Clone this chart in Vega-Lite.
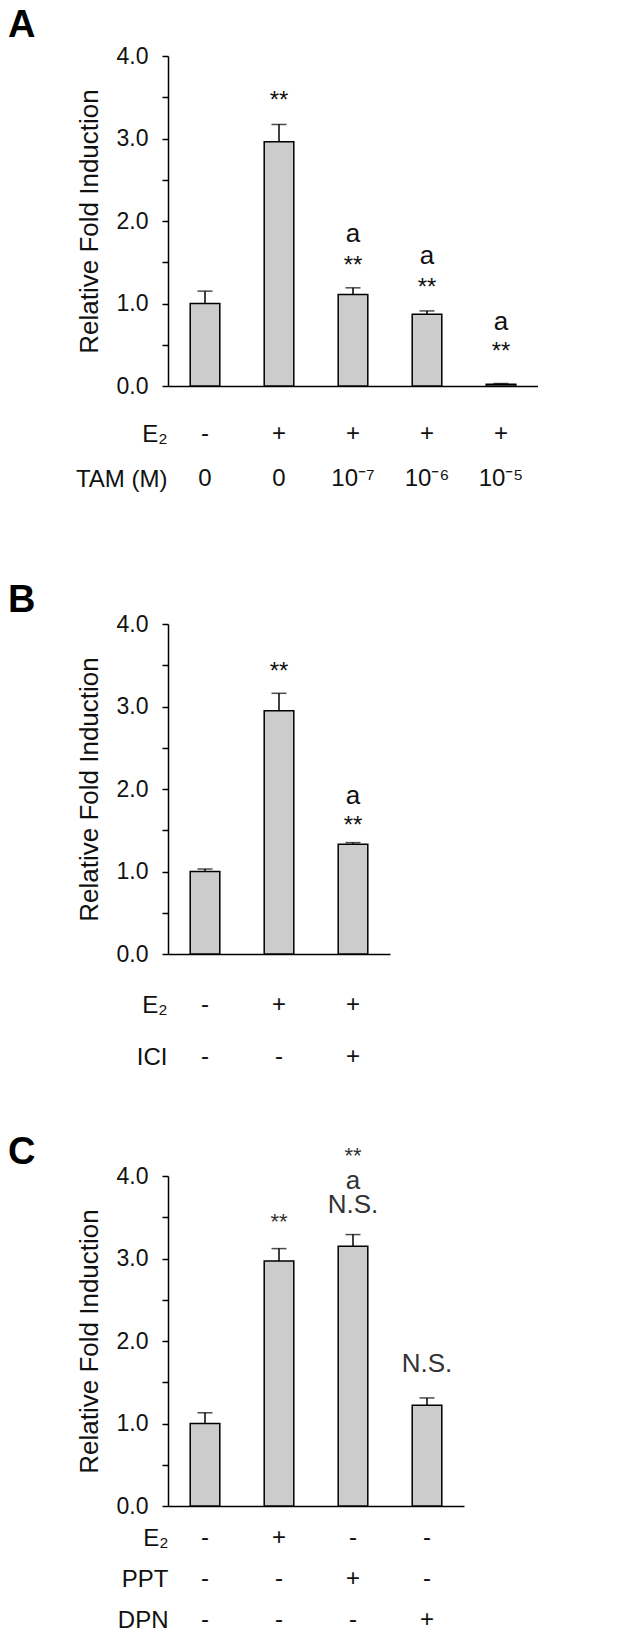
{
  "$schema": "https://vega.github.io/schema/vega-lite/v6.json",
  "background": "white",
  "padding": {"left": 8, "top": 7, "right": 0, "bottom": 0},
  "bounds": "flush",
  "spacing": 0,
  "config": {
    "font": "Liberation Sans",
    "view": {"stroke": null},
    "axis": {"grid": false},
    "title": {"font": "Liberation Sans"}
  },
  "datasets": {
    "bars": [
      {"panel": "A", "cond": "c1", "value": 1.00, "upper": 1.15},
      {"panel": "A", "cond": "c2", "value": 2.96, "upper": 3.17},
      {"panel": "A", "cond": "c3", "value": 1.11, "upper": 1.19},
      {"panel": "A", "cond": "c4", "value": 0.87, "upper": 0.91},
      {"panel": "A", "cond": "c5", "value": 0.02, "upper": 0.03},
      {"panel": "B", "cond": "c1", "value": 1.00, "upper": 1.03},
      {"panel": "B", "cond": "c2", "value": 2.95, "upper": 3.16},
      {"panel": "B", "cond": "c3", "value": 1.33, "upper": 1.35},
      {"panel": "C", "cond": "c1", "value": 1.00, "upper": 1.13},
      {"panel": "C", "cond": "c2", "value": 2.97, "upper": 3.12},
      {"panel": "C", "cond": "c3", "value": 3.15, "upper": 3.29},
      {"panel": "C", "cond": "c4", "value": 1.22, "upper": 1.31}
    ],
    "notes": [
      {"panel": "A", "cond": "c2", "kind": "star", "txt": "**", "pos": 3.53},
      {"panel": "A", "cond": "c3", "kind": "letter", "txt": "a", "pos": 1.84},
      {"panel": "A", "cond": "c3", "kind": "star", "txt": "**", "pos": 1.53},
      {"panel": "A", "cond": "c4", "kind": "letter", "txt": "a", "pos": 1.57},
      {"panel": "A", "cond": "c4", "kind": "star", "txt": "**", "pos": 1.26},
      {"panel": "A", "cond": "c5", "kind": "letter", "txt": "a", "pos": 0.78},
      {"panel": "A", "cond": "c5", "kind": "star", "txt": "**", "pos": 0.48},
      {"panel": "B", "cond": "c2", "kind": "star", "txt": "**", "pos": 3.49},
      {"panel": "B", "cond": "c3", "kind": "letter", "txt": "a", "pos": 1.91},
      {"panel": "B", "cond": "c3", "kind": "star", "txt": "**", "pos": 1.63},
      {"panel": "C", "cond": "c2", "kind": "star", "txt": "**", "pos": 3.51},
      {"panel": "C", "cond": "c3", "kind": "star", "txt": "**", "pos": 4.32},
      {"panel": "C", "cond": "c3", "kind": "letter", "txt": "a", "pos": 3.94},
      {"panel": "C", "cond": "c3", "kind": "letter", "txt": "N.S.", "pos": 3.65},
      {"panel": "C", "cond": "c4", "kind": "letter", "txt": "N.S.", "pos": 1.72}
    ],
    "rows": [
      {"panel": "A", "row": "E₂", "cond": "c1", "txt": "-"},
      {"panel": "A", "row": "E₂", "cond": "c2", "txt": "+"},
      {"panel": "A", "row": "E₂", "cond": "c3", "txt": "+"},
      {"panel": "A", "row": "E₂", "cond": "c4", "txt": "+"},
      {"panel": "A", "row": "E₂", "cond": "c5", "txt": "+"},
      {"panel": "A", "row": "TAM (M)", "cond": "c1", "txt": "0"},
      {"panel": "A", "row": "TAM (M)", "cond": "c2", "txt": "0"},
      {"panel": "A", "row": "TAM (M)", "cond": "c3", "txt": "10⁻⁷"},
      {"panel": "A", "row": "TAM (M)", "cond": "c4", "txt": "10⁻⁶"},
      {"panel": "A", "row": "TAM (M)", "cond": "c5", "txt": "10⁻⁵"},
      {"panel": "B", "row": "E₂", "cond": "c1", "txt": "-"},
      {"panel": "B", "row": "E₂", "cond": "c2", "txt": "+"},
      {"panel": "B", "row": "E₂", "cond": "c3", "txt": "+"},
      {"panel": "B", "row": "ICI", "cond": "c1", "txt": "-"},
      {"panel": "B", "row": "ICI", "cond": "c2", "txt": "-"},
      {"panel": "B", "row": "ICI", "cond": "c3", "txt": "+"},
      {"panel": "C", "row": "E₂", "cond": "c1", "txt": "-"},
      {"panel": "C", "row": "E₂", "cond": "c2", "txt": "+"},
      {"panel": "C", "row": "E₂", "cond": "c3", "txt": "-"},
      {"panel": "C", "row": "E₂", "cond": "c4", "txt": "-"},
      {"panel": "C", "row": "PPT", "cond": "c1", "txt": "-"},
      {"panel": "C", "row": "PPT", "cond": "c2", "txt": "-"},
      {"panel": "C", "row": "PPT", "cond": "c3", "txt": "+"},
      {"panel": "C", "row": "PPT", "cond": "c4", "txt": "-"},
      {"panel": "C", "row": "DPN", "cond": "c1", "txt": "-"},
      {"panel": "C", "row": "DPN", "cond": "c2", "txt": "-"},
      {"panel": "C", "row": "DPN", "cond": "c3", "txt": "-"},
      {"panel": "C", "row": "DPN", "cond": "c4", "txt": "+"}
    ]
  },
  "vconcat": [
    {
      "width": 370, "height": 330,
      "title": {"text": "A", "anchor": "start", "frame": "group", "dx": -160, "fontSize": 38, "fontWeight": "bold", "baseline": "alphabetic", "offset": -30, "color": "black"},
      "encoding": {
        "x": {"field": "cond", "type": "nominal", "scale": {"paddingInner": 0.6, "paddingOuter": 0.3},
              "axis": {"title": null, "labels": false, "ticks": false, "domainColor": "black", "domainWidth": 1.5}}
      },
      "layer": [
        {"data": {"name": "bars"}, "transform": [{"filter": "datum.panel === 'A'"}],
         "mark": {"type": "bar", "fill": "#cccccc", "stroke": "black", "strokeWidth": 1.5},
         "encoding": {"y": {"field": "value", "type": "quantitative", "scale": {"domain": [0, 4]},
           "axis": {"values": [0, 0.5, 1, 1.5, 2, 2.5, 3, 3.5, 4], "labelExpr": "datum.value % 1 === 0 ? format(datum.value, '.1f') : ''",
                    "tickSize": 6, "tickWidth": 1.5, "tickColor": "black", "domainColor": "black", "domainWidth": 1.5,
                    "labelFontSize": 23, "labelColor": "#111", "labelPadding": 14,
                    "title": "Relative Fold Induction", "titleFontSize": 26, "titleFontWeight": "normal", "titleColor": "#111", "titlePadding": 14}}}},
        {"data": {"name": "bars"}, "transform": [{"filter": "datum.panel === 'A'"}],
         "mark": {"type": "rule", "strokeWidth": 1.5, "color": "black"},
         "encoding": {"y": {"field": "value", "type": "quantitative"}, "y2": {"field": "upper"}}},
        {"data": {"name": "bars"}, "transform": [{"filter": "datum.panel === 'A'"}],
         "mark": {"type": "tick", "thickness": 1.5, "size": 15, "color": "black"},
         "encoding": {"y": {"field": "upper", "type": "quantitative"}}},
        {"data": {"name": "notes"}, "transform": [{"filter": "datum.panel === 'A' && datum.kind === 'star'"}],
         "mark": {"type": "text", "fontSize": 24, "baseline": "middle", "dy": 6, "color": "#111"},
         "encoding": {"y": {"field": "pos", "type": "quantitative"}, "text": {"field": "txt"}}},
        {"data": {"name": "notes"}, "transform": [{"filter": "datum.panel === 'A' && datum.kind === 'letter'"}],
         "mark": {"type": "text", "fontSize": 26, "baseline": "middle", "color": "#111"},
         "encoding": {"y": {"field": "pos", "type": "quantitative"}, "text": {"field": "txt"}}}
      ]
    },
    {
      "width": 370, "height": 238,
      "data": {"name": "rows"}, "transform": [{"filter": "datum.panel === 'A'"}],
      "mark": {"type": "text", "fontSize": 24, "baseline": "middle", "color": "#111"},
      "encoding": {
        "x": {"field": "cond", "type": "nominal", "scale": {"paddingInner": 0.6, "paddingOuter": 0.3}, "axis": null},
        "y": {"field": "row", "type": "nominal", "sort": ["E₂", "TAM (M)"], "scale": {"type": "point", "padding": 0, "range": [48, 93]},
              "axis": {"title": null, "domain": false, "ticks": false, "tickSize": 0, "labelFontSize": 24, "labelColor": "#111", "labelPadding": 1}},
        "text": {"field": "txt"}
      }
    },
    {
      "width": 222, "height": 330,
      "title": {"text": "B", "anchor": "start", "frame": "group", "dx": -160, "fontSize": 38, "fontWeight": "bold", "baseline": "alphabetic", "offset": -37, "color": "black"},
      "encoding": {
        "x": {"field": "cond", "type": "nominal", "scale": {"paddingInner": 0.6, "paddingOuter": 0.3},
              "axis": {"title": null, "labels": false, "ticks": false, "domainColor": "black", "domainWidth": 1.5}}
      },
      "layer": [
        {"data": {"name": "bars"}, "transform": [{"filter": "datum.panel === 'B'"}],
         "mark": {"type": "bar", "fill": "#cccccc", "stroke": "black", "strokeWidth": 1.5},
         "encoding": {"y": {"field": "value", "type": "quantitative", "scale": {"domain": [0, 4]},
           "axis": {"values": [0, 0.5, 1, 1.5, 2, 2.5, 3, 3.5, 4], "labelExpr": "datum.value % 1 === 0 ? format(datum.value, '.1f') : ''",
                    "tickSize": 6, "tickWidth": 1.5, "tickColor": "black", "domainColor": "black", "domainWidth": 1.5,
                    "labelFontSize": 23, "labelColor": "#111", "labelPadding": 14,
                    "title": "Relative Fold Induction", "titleFontSize": 26, "titleFontWeight": "normal", "titleColor": "#111", "titlePadding": 14}}}},
        {"data": {"name": "bars"}, "transform": [{"filter": "datum.panel === 'B'"}],
         "mark": {"type": "rule", "strokeWidth": 1.5, "color": "black"},
         "encoding": {"y": {"field": "value", "type": "quantitative"}, "y2": {"field": "upper"}}},
        {"data": {"name": "bars"}, "transform": [{"filter": "datum.panel === 'B'"}],
         "mark": {"type": "tick", "thickness": 1.5, "size": 15, "color": "black"},
         "encoding": {"y": {"field": "upper", "type": "quantitative"}}},
        {"data": {"name": "notes"}, "transform": [{"filter": "datum.panel === 'B' && datum.kind === 'star'"}],
         "mark": {"type": "text", "fontSize": 24, "baseline": "middle", "dy": 6, "color": "#111"},
         "encoding": {"y": {"field": "pos", "type": "quantitative"}, "text": {"field": "txt"}}},
        {"data": {"name": "notes"}, "transform": [{"filter": "datum.panel === 'B' && datum.kind === 'letter'"}],
         "mark": {"type": "text", "fontSize": 26, "baseline": "middle", "color": "#111"},
         "encoding": {"y": {"field": "pos", "type": "quantitative"}, "text": {"field": "txt"}}}
      ]
    },
    {
      "width": 222, "height": 222,
      "data": {"name": "rows"}, "transform": [{"filter": "datum.panel === 'B'"}],
      "mark": {"type": "text", "fontSize": 24, "baseline": "middle", "color": "#111"},
      "encoding": {
        "x": {"field": "cond", "type": "nominal", "scale": {"paddingInner": 0.6, "paddingOuter": 0.3}, "axis": null},
        "y": {"field": "row", "type": "nominal", "sort": ["E₂", "ICI"], "scale": {"type": "point", "padding": 0, "range": [51, 103]},
              "axis": {"title": null, "domain": false, "ticks": false, "tickSize": 0, "labelFontSize": 24, "labelColor": "#111", "labelPadding": 1}},
        "text": {"field": "txt"}
      }
    },
    {
      "width": 296, "height": 330,
      "title": {"text": "C", "anchor": "start", "frame": "group", "dx": -160, "fontSize": 38, "fontWeight": "bold", "baseline": "alphabetic", "offset": -57, "color": "black"},
      "encoding": {
        "x": {"field": "cond", "type": "nominal", "scale": {"paddingInner": 0.6, "paddingOuter": 0.3},
              "axis": {"title": null, "labels": false, "ticks": false, "domainColor": "black", "domainWidth": 1.5}}
      },
      "layer": [
        {"data": {"name": "bars"}, "transform": [{"filter": "datum.panel === 'C'"}],
         "mark": {"type": "bar", "fill": "#cccccc", "stroke": "black", "strokeWidth": 1.5},
         "encoding": {"y": {"field": "value", "type": "quantitative", "scale": {"domain": [0, 4]},
           "axis": {"values": [0, 0.5, 1, 1.5, 2, 2.5, 3, 3.5, 4], "labelExpr": "datum.value % 1 === 0 ? format(datum.value, '.1f') : ''",
                    "tickSize": 6, "tickWidth": 1.5, "tickColor": "black", "domainColor": "black", "domainWidth": 1.5,
                    "labelFontSize": 23, "labelColor": "#111", "labelPadding": 14,
                    "title": "Relative Fold Induction", "titleFontSize": 26, "titleFontWeight": "normal", "titleColor": "#111", "titlePadding": 14}}}},
        {"data": {"name": "bars"}, "transform": [{"filter": "datum.panel === 'C'"}],
         "mark": {"type": "rule", "strokeWidth": 1.5, "color": "black"},
         "encoding": {"y": {"field": "value", "type": "quantitative"}, "y2": {"field": "upper"}}},
        {"data": {"name": "bars"}, "transform": [{"filter": "datum.panel === 'C'"}],
         "mark": {"type": "tick", "thickness": 1.5, "size": 15, "color": "black"},
         "encoding": {"y": {"field": "upper", "type": "quantitative"}}},
        {"data": {"name": "notes"}, "transform": [{"filter": "datum.panel === 'C' && datum.kind === 'star'"}],
         "mark": {"type": "text", "fontSize": 22, "baseline": "middle", "dy": 6, "color": "#333"},
         "encoding": {"y": {"field": "pos", "type": "quantitative"}, "text": {"field": "txt"}}},
        {"data": {"name": "notes"}, "transform": [{"filter": "datum.panel === 'C' && datum.kind === 'letter'"}],
         "mark": {"type": "text", "fontSize": 26, "baseline": "middle", "color": "#333"},
         "encoding": {"y": {"field": "pos", "type": "quantitative"}, "text": {"field": "txt"}}}
      ]
    },
    {
      "width": 296, "height": 136,
      "data": {"name": "rows"}, "transform": [{"filter": "datum.panel === 'C'"}],
      "mark": {"type": "text", "fontSize": 24, "baseline": "middle", "color": "#111"},
      "encoding": {
        "x": {"field": "cond", "type": "nominal", "scale": {"paddingInner": 0.6, "paddingOuter": 0.3}, "axis": null},
        "y": {"field": "row", "type": "nominal", "sort": ["E₂", "PPT", "DPN"], "scale": {"type": "point", "padding": 0, "range": [32, 114]},
              "axis": {"title": null, "domain": false, "ticks": false, "tickSize": 0, "labelFontSize": 24, "labelColor": "#111", "labelPadding": 0}},
        "text": {"field": "txt"}
      }
    }
  ]
}
